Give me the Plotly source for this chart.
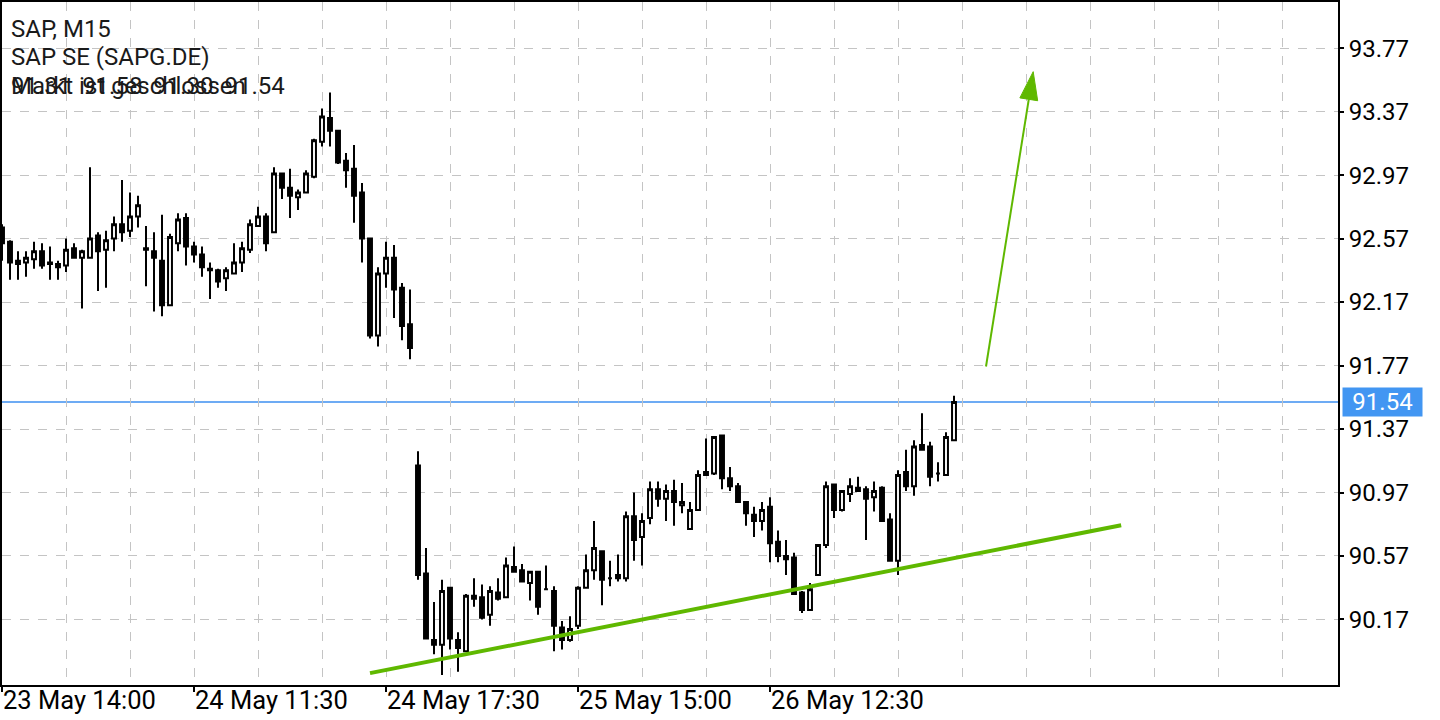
import math
import plotly.graph_objects as go

# ---------------- data ----------------
opens = [92.64, 92.55, 92.43, 92.42, 92.44, 92.49, 92.42, 92.41, 92.40, 92.51,
         92.45, 92.45, 92.59, 92.50, 92.57, 92.66, 92.62, 92.71, 92.51, 92.49,
         92.43, 92.15, 92.54, 92.70, 92.52, 92.47, 92.38, 92.37, 92.32, 92.35,
         92.42, 92.50, 92.65, 92.71, 92.61, 92.98, 92.89, 92.83, 92.86, 92.96,
         93.18, 93.33, 93.25, 93.06, 93.01, 92.86, 92.57, 91.96, 92.35, 92.45,
         92.26, 92.03, 91.14, 90.46, 90.04, 90.01, 90.37, 90.04, 89.97, 90.32,
         90.31, 90.20, 90.34, 90.31, 90.50, 90.48, 90.40, 90.47, 90.36, 90.35,
         90.12, 90.04, 90.13, 90.37, 90.48, 90.60, 90.43, 90.45, 90.43, 90.82,
         90.69, 90.81, 90.99, 90.93, 90.98, 90.89, 90.74, 90.86, 91.10, 91.09,
         91.33, 91.06, 91.01, 90.91, 90.83, 90.79, 90.88, 90.66, 90.57, 90.56,
         90.34, 90.23, 90.45, 90.64, 91.02, 90.86, 90.96, 91.00, 90.99, 90.94,
         91.00, 90.80, 90.54, 91.10, 91.01, 91.27, 91.26, 91.09, 91.08, 91.30]
highs = [92.66, 92.56, 92.49, 92.49, 92.55, 92.54, 92.52, 92.43, 92.57, 92.54,
         92.50, 93.02, 92.61, 92.62, 92.71, 92.94, 92.86, 92.84, 92.65, 92.61,
         92.72, 92.60, 92.73, 92.73, 92.55, 92.52, 92.42, 92.38, 92.39, 92.54,
         92.55, 92.69, 92.77, 92.73, 93.02, 92.98, 93.01, 92.88, 93.00, 93.20,
         93.39, 93.49, 93.25, 93.11, 93.16, 92.92, 92.57, 92.39, 92.55, 92.53,
         92.29, 92.25, 91.23, 90.62, 90.28, 90.42, 90.37, 90.09, 90.33, 90.43,
         90.39, 90.38, 90.43, 90.56, 90.63, 90.52, 90.47, 90.47, 90.51, 90.38,
         90.16, 90.19, 90.38, 90.58, 90.79, 90.60, 90.54, 90.58, 90.85, 90.97,
         90.84, 91.04, 91.04, 91.02, 91.05, 91.03, 90.91, 91.11, 91.31, 91.32,
         91.33, 91.13, 91.03, 90.91, 90.88, 90.91, 90.94, 90.73, 90.67, 90.59,
         90.35, 90.40, 90.64, 91.04, 91.02, 90.98, 91.06, 91.07, 91.01, 91.04,
         91.01, 90.84, 91.11, 91.24, 91.30, 91.47, 91.29, 91.16, 91.35, 91.58]
lows = [92.43, 92.31, 92.31, 92.33, 92.38, 92.38, 92.31, 92.31, 92.36, 92.45,
        92.13, 92.45, 92.24, 92.26, 92.49, 92.55, 92.58, 92.64, 92.27, 92.11,
        92.08, 92.15, 92.49, 92.40, 92.42, 92.33, 92.19, 92.26, 92.24, 92.35,
        92.36, 92.48, 92.65, 92.49, 92.61, 92.82, 92.70, 92.75, 92.86, 92.95,
        93.15, 93.15, 93.04, 92.89, 92.67, 92.42, 91.94, 91.89, 92.26, 92.07,
        91.93, 91.81, 90.42, 90.05, 89.95, 89.82, 89.98, 89.84, 89.97, 90.25,
        90.17, 90.13, 90.29, 90.31, 90.47, 90.41, 90.29, 90.20, 90.36, 89.97,
        89.98, 90.03, 90.11, 90.37, 90.42, 90.26, 90.38, 90.41, 90.41, 90.54,
        90.51, 90.77, 90.88, 90.79, 90.76, 90.84, 90.74, 90.86, 91.08, 91.08,
        90.99, 90.98, 90.91, 90.76, 90.69, 90.73, 90.53, 90.53, 90.45, 90.33,
        90.21, 90.23, 90.45, 90.62, 90.81, 90.85, 90.91, 90.98, 90.67, 90.85,
        90.79, 90.54, 90.45, 90.98, 90.95, 91.24, 91.01, 91.04, 91.08, 91.30]
closes = [92.54, 92.42, 92.41, 92.45, 92.49, 92.40, 92.41, 92.39, 92.50, 92.45,
          92.49, 92.57, 92.49, 92.56, 92.66, 92.61, 92.71, 92.78, 92.50, 92.45,
          92.15, 92.58, 92.69, 92.52, 92.47, 92.39, 92.37, 92.30, 92.37, 92.42,
          92.51, 92.66, 92.71, 92.54, 92.98, 92.89, 92.84, 92.86, 92.98, 93.19,
          93.34, 93.25, 93.05, 93.00, 92.84, 92.57, 91.96, 92.35, 92.45, 92.25,
          92.02, 91.88, 90.45, 90.05, 90.01, 90.35, 90.05, 89.99, 90.32, 90.30,
          90.18, 90.35, 90.30, 90.51, 90.47, 90.41, 90.47, 90.25, 90.36, 90.13,
          90.04, 90.11, 90.37, 90.48, 90.62, 90.42, 90.43, 90.43, 90.82, 90.67,
          90.79, 90.99, 90.93, 90.98, 90.91, 90.91, 90.86, 91.08, 91.08, 91.32,
          91.06, 91.01, 90.91, 90.84, 90.79, 90.86, 90.65, 90.57, 90.55, 90.33,
          90.23, 90.36, 90.64, 91.01, 90.86, 90.98, 91.01, 90.98, 90.93, 90.98,
          90.79, 90.54, 91.08, 91.01, 91.26, 91.24, 91.07, 91.09, 91.32, 91.54]
bar_index = list(range(len(opens)))

x_tick_positions = [0, 24, 48, 72, 96]
x_tick_labels = ["23 May 14:00", "24 May 11:30", "24 May 17:30",
                 "25 May 15:00", "26 May 12:30"]
y_tick_values = [90.17, 90.57, 90.97, 91.37, 91.77, 92.17, 92.57, 92.97, 93.37, 93.77]
y_tick_labels = [f"{v:.2f}" for v in y_tick_values]

last_price = 91.54
header_lines = ["SAP, M15", "SAP SE (SAPG.DE)", "Markt ist geschlossen"]
header_ohlc = ["91.31", "91.58", "91.30", "91.54"]

# drawn objects (bar index, price)
trend_start = (46.0, 89.832)
trend_end = (139.9, 90.764)
arrow_tail = (123.0, 91.764)
arrow_tip = (128.9, 93.622)

# ---------------- layout geometry ----------------
W, H = 1440, 720
M_L, M_R, M_T, M_B = 2, 102, 2, 35
x_range = [0.0, 167.0]
y_range = [89.757, 94.061]
plot_w = W - M_L - M_R
plot_h = H - M_T - M_B
px_x = plot_w / (x_range[1] - x_range[0])
px_y = plot_h / (y_range[1] - y_range[0])

GREEN = "#5fb800"
BLUE = "#3d8ff0"
GRID = "#c4c4c4"
FONT = "Roboto"
NB = "\u00a0"
THIN = "\u2009"

fig = go.Figure()
fig.add_trace(go.Candlestick(
    x=bar_index, open=opens, high=highs, low=lows, close=closes,
    increasing=dict(line=dict(color="black", width=2), fillcolor="white"),
    decreasing=dict(line=dict(color="black", width=2), fillcolor="black"),
    whiskerwidth=0, showlegend=False, hoverinfo="skip",
))

# current price line
fig.add_shape(type="line", xref="paper", x0=0, x1=1, yref="y", y0=last_price, y1=last_price,
              line=dict(color=BLUE, width=1.5), layer="below")
# trend line
fig.add_shape(type="line", xref="x", yref="y",
              x0=trend_start[0], y0=trend_start[1], x1=trend_end[0], y1=trend_end[1],
              line=dict(color=GREEN, width=4))

# arrow: shaft + triangular head computed in pixel space
dxp = (arrow_tip[0] - arrow_tail[0]) * px_x
dyp = (arrow_tip[1] - arrow_tail[1]) * px_y
L = math.hypot(dxp, dyp)
ux, uy = dxp / L, dyp / L
nx, ny = -uy, ux
head_len, head_half = 28, 9
bx = arrow_tip[0] - head_len * ux / px_x
by = arrow_tip[1] - head_len * uy / px_y
c1 = (bx + head_half * nx / px_x, by + head_half * ny / px_y)
c2 = (bx - head_half * nx / px_x, by - head_half * ny / px_y)
fig.add_shape(type="line", xref="x", yref="y",
              x0=arrow_tail[0], y0=arrow_tail[1], x1=bx, y1=by,
              line=dict(color=GREEN, width=2))
fig.add_shape(type="path", xref="x", yref="y",
              path=f"M {arrow_tip[0]},{arrow_tip[1]} L {c1[0]},{c1[1]} L {c2[0]},{c2[1]} Z",
              fillcolor=GREEN, line=dict(color=GREEN, width=1))

# header texts
def py_to_paper(py):
    return 1 - (py - M_T) / plot_h

header_y = [29, 57, 86]
for txt, yy in zip(header_lines, header_y):
    fig.add_annotation(text=txt, xref="paper", yref="paper", x=0, xshift=7,
                       y=py_to_paper(yy), xanchor="left", yanchor="middle",
                       showarrow=False, font=dict(family=FONT, size=24, color="#1a1a1a"))
fig.add_annotation(text=(NB + THIN).join(header_ohlc), xref="paper", yref="paper", x=0, xshift=7,
                   y=py_to_paper(header_y[2]), xanchor="left", yanchor="middle",
                   showarrow=False, font=dict(family=FONT, size=24, color="#1a1a1a"))

# x-axis labels, left aligned at their tick
for pos, lab in zip(x_tick_positions, x_tick_labels):
    fig.add_annotation(text=lab.replace(" ", NB), xref="x", x=pos, xanchor="left", xshift=-1,
                       yref="paper", y=py_to_paper(700), yanchor="middle", showarrow=False,
                       font=dict(family=FONT, size=25.5, color="black"))

# price label on the axis
fig.add_annotation(text=f"{last_price:.2f}", xref="paper", x=1, xshift=4, xanchor="left",
                   yref="y", y=last_price, yanchor="middle", showarrow=False,
                   bgcolor="#4296f2", width=79, height=28, borderpad=0, align="center",
                   font=dict(family=FONT, size=24, color="white"))

fig.update_layout(
    width=W, height=H,
    margin=dict(l=M_L, r=M_R, t=M_T, b=M_B, autoexpand=False),
    paper_bgcolor="white", plot_bgcolor="white",
    showlegend=False,
    xaxis=dict(
        range=x_range, rangeslider=dict(visible=False), automargin=False,
        tickmode="array", tickvals=x_tick_positions, ticktext=[""] * len(x_tick_positions),
        ticks="outside", ticklen=5, tickwidth=1.5, tickcolor="black",
        showgrid=True, gridcolor=GRID, griddash="dash", gridwidth=1,
        minor=dict(tick0=0, dtick=8, showgrid=True, gridcolor=GRID, griddash="dash",
                   gridwidth=1, ticks=""),
        showline=True, linecolor="black", linewidth=2, mirror=True, zeroline=False,
    ),
    yaxis=dict(
        range=y_range, side="right", automargin=False,
        tickmode="array", tickvals=y_tick_values, ticktext=y_tick_labels,
        ticks="outside", ticklen=4, tickwidth=1.5, tickcolor="black",
        tickfont=dict(family=FONT, size=24, color="black"),
        showgrid=True, gridcolor=GRID, griddash="dash", gridwidth=1,
        showline=True, linecolor="black", linewidth=2, mirror=True, zeroline=False,
    ),
)

fig.write_html(
    "out.html",
    config={"displayModeBar": False},
    post_script="document.body.style.margin='0';document.body.style.overflow='hidden';",
)
